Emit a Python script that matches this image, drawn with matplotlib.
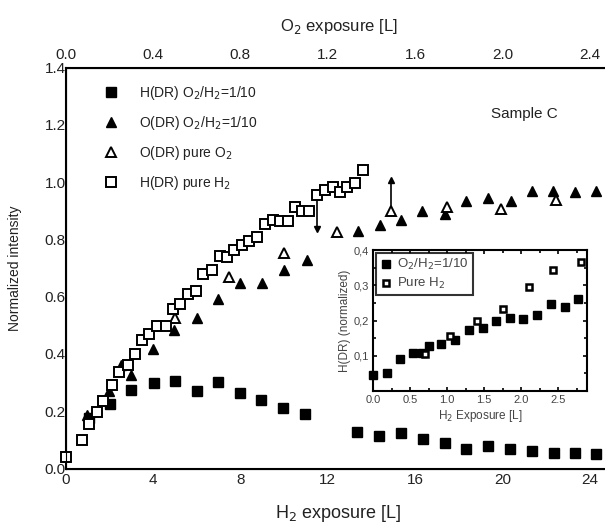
import numpy as np
import matplotlib.pyplot as plt
from matplotlib.ticker import MultipleLocator

plt.rcParams['font.family'] = ['Liberation Sans', 'DejaVu Sans']

# main panel: H(DR) for O2/H2 = 1/10 (filled squares)
h_mix_x = [1.09, 2.03, 3.0, 4.03, 5.02, 6.03, 6.99, 7.98, 8.94, 9.96, 10.95,
           13.34, 14.33, 15.34, 16.36, 17.35, 18.34, 19.33, 20.32, 21.32,
           22.34, 23.3, 24.29]
h_mix_y = [0.175, 0.225, 0.273, 0.30, 0.307, 0.271, 0.303, 0.262, 0.241, 0.212,
           0.192, 0.128, 0.114, 0.123, 0.102, 0.088, 0.067, 0.08, 0.067, 0.061,
           0.053, 0.053, 0.051]

# O(DR) for O2/H2 = 1/10 (filled triangles)
o_mix_x = [1.0, 2.0, 2.54, 2.98, 3.99, 4.96, 6.0, 6.99, 7.98, 9.0, 9.99,
           11.03, 13.4, 14.38, 15.37, 16.33, 17.35, 18.34, 19.33, 20.36,
           21.32, 22.3, 23.3, 24.29]
o_mix_y = [0.187, 0.27, 0.361, 0.326, 0.417, 0.485, 0.527, 0.593, 0.649, 0.649,
           0.692, 0.729, 0.829, 0.852, 0.869, 0.899, 0.89, 0.933, 0.946, 0.933,
           0.969, 0.969, 0.965, 0.971]

# O(DR) pure O2 (open triangles)
o_pure_x = [5.0, 7.5, 9.99, 12.4, 14.91, 17.46, 19.94, 22.43]
o_pure_y = [0.524, 0.669, 0.752, 0.826, 0.901, 0.913, 0.907, 0.939]

# H(DR) pure H2 (open squares)
h_pure_x = [0.0, 0.74, 1.09, 1.43, 1.73, 2.11, 2.46, 2.87, 3.18, 3.48, 3.83,
            4.2, 4.6, 4.93, 5.24, 5.59, 5.95, 6.3, 6.71, 7.06, 7.37, 7.72,
            8.06, 8.4, 8.74, 9.12, 9.47, 9.81, 10.16, 10.49, 10.83, 11.15,
            11.51, 11.87, 12.25, 12.58, 12.9, 13.24, 13.62]
h_pure_y = [0.04, 0.10, 0.155, 0.198, 0.235, 0.291, 0.337, 0.361, 0.40, 0.448,
            0.471, 0.498, 0.498, 0.556, 0.573, 0.611, 0.619, 0.68, 0.694, 0.741,
            0.738, 0.762, 0.779, 0.794, 0.808, 0.855, 0.869, 0.866, 0.863,
            0.913, 0.901, 0.901, 0.954, 0.973, 0.983, 0.965, 0.983, 0.997, 1.044]

# vertical bars (x, from, to)
bar_x = [11.51, 14.91]
bar_from = [0.954, 0.901]
bar_to = [0.838, 1.008]

# inset
ins_mix_x = [0.0, 0.19, 0.37, 0.54, 0.66, 0.75, 0.92, 1.11, 1.30, 1.49, 1.66,
             1.85, 2.02, 2.21, 2.40, 2.59, 2.77]
ins_mix_y = [0.045, 0.052, 0.09, 0.107, 0.107, 0.127, 0.134, 0.146, 0.174,
             0.18, 0.198, 0.208, 0.203, 0.215, 0.246, 0.238, 0.26]
ins_pure_x = [0.70, 1.04, 1.40, 1.76, 2.10, 2.43, 2.81]
ins_pure_y = [0.104, 0.155, 0.20, 0.234, 0.295, 0.344, 0.365]

txt = '#222222'

fig = plt.figure(figsize=(6.05, 5.31), dpi=100)
ax = fig.add_axes([65.5 / 605, 62.5 / 531, (612 - 65.5) / 605, 400.8 / 531])

ax.plot(h_mix_x, h_mix_y, 's', color='black', ms=6.5, ls='none',
        label='H(DR) O$_2$/H$_2$=1/10', zorder=3)
ax.plot(o_mix_x, o_mix_y, '^', color='black', ms=7.5, ls='none',
        label='O(DR) O$_2$/H$_2$=1/10', zorder=3)
ax.plot(o_pure_x, o_pure_y, '^', mfc='white', mec='black', mew=1.4, ms=7,
        ls='none', label='O(DR) pure O$_2$', zorder=4)
ax.plot(h_pure_x, h_pure_y, 's', mfc='white', mec='black', mew=1.4, ms=6.5,
        ls='none', label='H(DR) pure H$_2$', zorder=5, clip_on=False)

for bx, b0, b1 in zip(bar_x, bar_from, bar_to):
    ax.plot([bx, bx], [b0, b1], color='black', lw=1.2, zorder=2)
    ax.plot([bx], [b1], marker='v' if b1 < b0 else '^', color='black', ms=4,
            zorder=2)

ax.set_xlim(0, 25)
ax.set_ylim(0, 1.4)
ax.set_xticks(np.arange(0, 25, 4))
ax.set_yticks(np.arange(0, 1.41, 0.2))
ax.set_yticklabels(['0.0', '0.2', '0.4', '0.6', '0.8', '1.0', '1.2', '1.4'])
ax.tick_params(length=0, labelsize=11, labelcolor=txt, pad=0)
ax.tick_params(axis='x', pad=3)
for s in ax.spines.values():
    s.set_linewidth(1.5)
ax.set_xlabel('H$_2$ exposure [L]', fontsize=13, color=txt, labelpad=12)
ax.set_ylabel('Normalized intensity', fontsize=10, color=txt, labelpad=16)

top = ax.twiny()
top.set_xlim(0, 2.5)
top.set_xticks(np.arange(0, 2.5, 0.4))
top.set_xticklabels(['0.0', '0.4', '0.8', '1.2', '1.6', '2.0', '2.4'])
top.tick_params(length=0, labelsize=11, labelcolor=txt, pad=4)
top.set_xlabel('O$_2$ exposure [L]', fontsize=12, color=txt, labelpad=12)

ax.legend(loc='upper left', bbox_to_anchor=(0.045, 0.99), frameon=False,
          fontsize=10, labelspacing=0.85, handletextpad=1.4, handlelength=1.2,
          labelcolor=txt)
ax.text(0.84, 0.885, 'Sample C', transform=ax.transAxes, fontsize=11,
        color=txt, ha='center', va='center')

# inset
ins = fig.add_axes([373 / 605, (531 - 391) / 531, (587 - 373) / 605, 141 / 531])
ins.plot(ins_mix_x, ins_mix_y, 's', color='black', ms=6, ls='none',
         label='O$_2$/H$_2$=1/10', clip_on=False, zorder=3)
ins.plot(ins_pure_x, ins_pure_y, 's', mfc='white', mec='black', mew=1.8,
         ms=5, ls='none', label='Pure H$_2$', zorder=4)
ins.set_xlim(0, 2.89)
ins.set_ylim(0, 0.4)
ins.set_xticks(np.arange(0, 2.6, 0.5))
ins.set_xticklabels(['0.0', '0.5', '1.0', '1.5', '2.0', '2.5'])
ins.set_yticks([0.1, 0.2, 0.3, 0.4])
ins.set_yticklabels(['0,1', '0,2', '0,3', '0,4'])
ins.xaxis.set_minor_locator(MultipleLocator(0.25))
ins.yaxis.set_minor_locator(MultipleLocator(0.05))
ins.tick_params(which='both', direction='in', top=True, right=True,
                labelsize=8, labelcolor='#444444', width=1.2)
ins.tick_params(which='major', length=3, pad=3)
ins.tick_params(which='minor', length=2)
for s in ins.spines.values():
    s.set_linewidth(1.5)
ins.set_xlabel('H$_2$ Exposure [L]', fontsize=8.5, color='#444444', labelpad=2)
ins.set_ylabel('H(DR) (normalized)', fontsize=8.5, color='#444444', labelpad=2)
leg = ins.legend(loc='upper left', fontsize=9.5, frameon=True, fancybox=False,
                 edgecolor='black', handlelength=0.8, handletextpad=0.5,
                 borderpad=0.3, labelspacing=0.3, borderaxespad=0.25,
                 labelcolor='#444444')
leg.get_frame().set_linewidth(1.5)

fig.savefig('out.png', dpi=100)
